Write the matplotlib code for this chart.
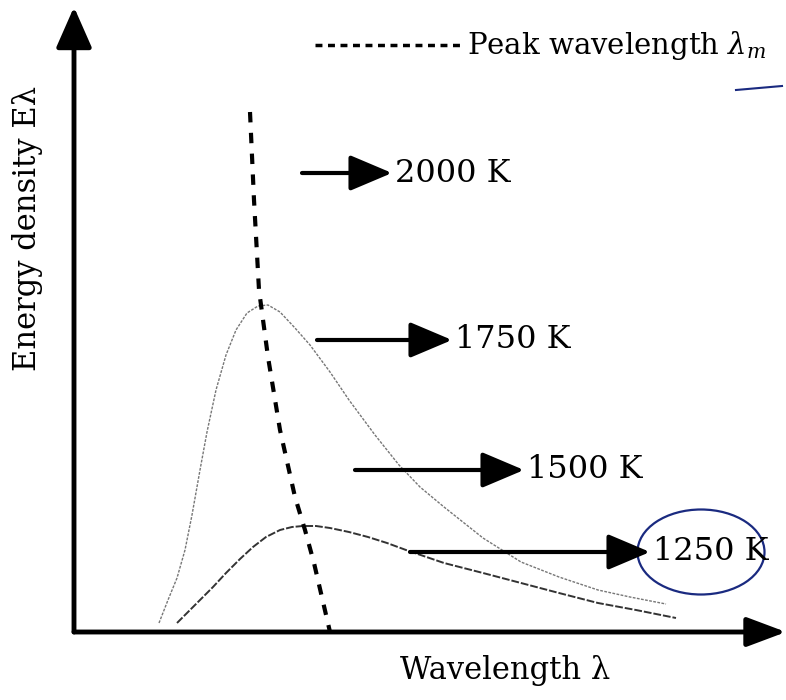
import matplotlib
matplotlib.use("Agg")
import matplotlib.pyplot as plt
from matplotlib.patches import Ellipse

plt.rcParams['font.family'] = ['DejaVu Serif']
plt.rcParams['mathtext.fontset'] = 'dejavuserif'

# Data (arbitrary units: wavelength, energy density)
upper_x = [0.85, 0.94, 1.03, 1.11, 1.18, 1.26, 1.33, 1.42, 1.52, 1.62, 1.73, 1.84, 1.94, 2.06, 2.21,
           2.36, 2.56, 2.75, 3.01, 3.25, 3.46, 3.70, 4.09, 4.47, 4.85, 5.24, 5.56, 5.92]
upper_y = [0.09, 0.32, 0.54, 0.82, 1.17, 1.62, 2.00, 2.42, 2.77, 3.02, 3.19, 3.26, 3.27, 3.20, 3.04,
           2.87, 2.60, 2.32, 1.97, 1.67, 1.45, 1.25, 0.94, 0.70, 0.55, 0.42, 0.35, 0.28]
lower_x = [1.03, 1.14, 1.26, 1.39, 1.52, 1.66, 1.79, 1.92, 2.06, 2.18, 2.29, 2.42, 2.56, 2.75, 2.94,
           3.13, 3.32, 3.70, 4.09, 4.47, 4.85, 5.24, 5.62, 6.02]
lower_y = [0.09, 0.20, 0.32, 0.45, 0.59, 0.73, 0.85, 0.95, 1.02, 1.05, 1.06, 1.06, 1.04, 1.00, 0.95,
           0.89, 0.82, 0.69, 0.59, 0.49, 0.39, 0.29, 0.22, 0.14]
peak_x = [1.76, 1.80, 1.85, 1.94, 2.06, 2.21, 2.31, 2.40, 2.56]
peak_y = [5.20, 4.32, 3.42, 2.75, 2.02, 1.35, 1.02, 0.69, 0.00]

temps = ['2000 K', '1750 K', '1500 K', '1250 K']
arrow_start = [2.28, 2.43, 2.81, 3.36]
arrow_end = [3.18, 3.78, 4.50, 5.76]
arrow_y = [4.59, 2.92, 1.62, 0.80]

fig = plt.figure(figsize=(7.86, 7.0), dpi=100)
ax = fig.add_axes([0, 0, 1, 1])
ax.set_xlim(-0.74, 7.12)
ax.set_ylim(-0.68, 6.32)
ax.axis('off')

# Axes with arrows
ax.annotate('', xy=(0, 6.25), xytext=(0, 0),
            arrowprops=dict(arrowstyle='-|>,head_length=1.25,head_width=0.55',
                            lw=3.5, color='black', mutation_scale=20, shrinkA=0, shrinkB=0))
ax.annotate('', xy=(7.12, 0), xytext=(0, 0),
            arrowprops=dict(arrowstyle='-|>,head_length=1.2,head_width=0.45',
                            lw=3.5, color='black', mutation_scale=20, shrinkA=0, shrinkB=0))

# Curves
ax.plot(upper_x, upper_y, color='#777777', lw=1.0, linestyle=(0, (2, 1)))
ax.plot(lower_x, lower_y, color='#333333', lw=1.4, linestyle=(0, (4, 1)))
ax.plot(peak_x, peak_y, color='black', lw=3, linestyle=(0, (2.5, 2.5)))

# Temperature arrows
for t, xs, xe, y in zip(temps, arrow_start, arrow_end, arrow_y):
    ax.annotate('', xy=(xe, y), xytext=(xs, y),
                arrowprops=dict(arrowstyle='-|>,head_length=1.3,head_width=0.55',
                                lw=3, color='black', mutation_scale=20, shrinkA=0, shrinkB=0))
    ax.text(xe + 0.03, y, t, fontsize=23, va='center', ha='left')

# Legend for peak wavelength
ax.plot([2.41, 3.90], [5.87, 5.87], color='black', lw=2.5, linestyle=(0, (2, 1.6)))
ax.text(3.93, 5.87, r'Peak wavelength $\lambda_m$', fontsize=21, va='center', ha='left')
ax.plot([6.62, 7.08], [5.42, 5.46], color='#1a2a80', lw=1.5)

# Blue circle
ax.add_patch(Ellipse((6.27, 0.80), 1.27, 0.85, fill=False, edgecolor='#1a2a80', lw=1.6))

# Axis labels
ax.text(-0.46, 4.04, 'Energy density E\u03bb', rotation=90, fontsize=22, va='center', ha='center')
ax.text(4.31, -0.38, 'Wavelength \u03bb', fontsize=22, va='center', ha='center')

fig.savefig('out.png', dpi=100)
